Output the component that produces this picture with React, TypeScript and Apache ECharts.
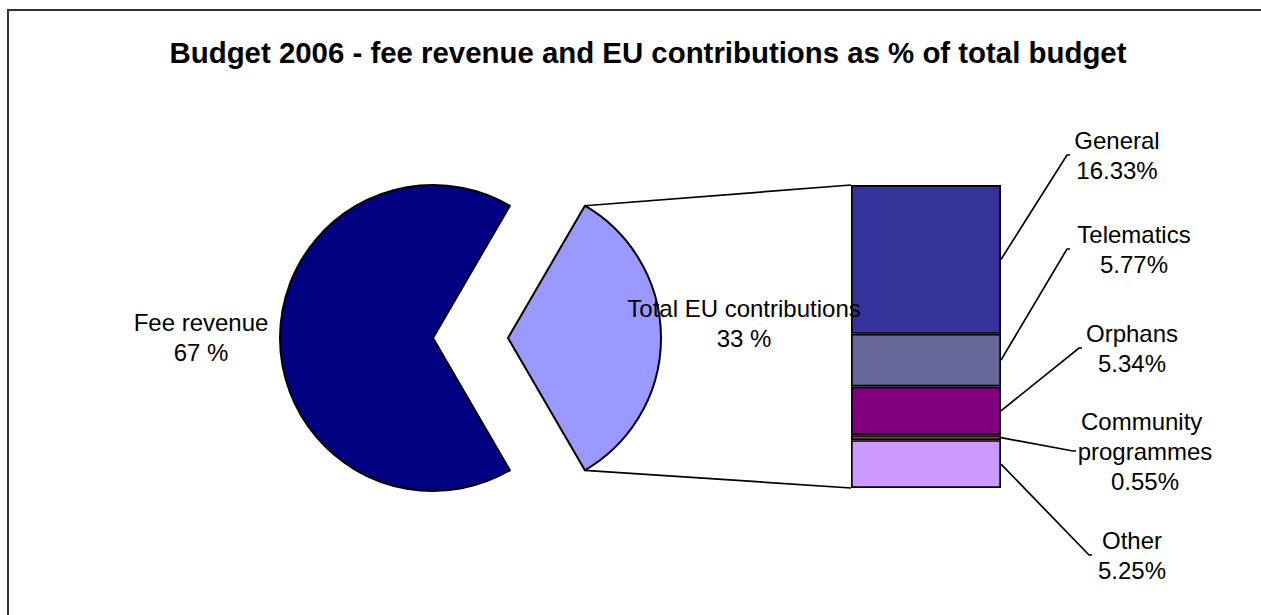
import React, { useEffect, useRef } from 'react';
import * as echarts from 'echarts';

// ---- data ----
const TITLE = 'Budget 2006 - fee revenue and EU contributions as % of total budget';
const PIE_NAMES = ['Total EU contributions', 'Fee revenue'];
const PIE_VALUES = [33.24, 66.76];
const PIE_COLORS = ['#9999FF', '#000080'];

const BAR_NAMES = ['General', 'Telematics', 'Orphans', 'Community programmes', 'Other'];
const BAR_VALUES = [16.33, 5.77, 5.34, 0.55, 5.25];
const BAR_COLORS = ['#333399', '#666699', '#800080', '#993366', '#CC99FF'];

// ---- layout ----
const FONT = 'Liberation Sans, Arial, sans-serif';
const LABEL_SIZE = 24;
const PIE_CX = 433;
const PIE_CY = 338;
const PIE_R = 153;
const EXPLODE = 75;
const BAR_LEFT = 851;
const BAR_TOP = 185;
const BAR_W = 150;
const BAR_H = 303;
const PIE_LABEL_POS = [
  { x: 744, y: 323 },
  { x: 201, y: 337 },
];
const BAR_LABEL_POS = [
  { x: 1117, y: 155, tick: 1067 },
  { x: 1134, y: 249, tick: 1067 },
  { x: 1132, y: 348, tick: 1079 },
  { x: 1145, y: 451, tick: 1073 },
  { x: 1132, y: 555, tick: 1089 },
];

export default function App() {
  const ref = useRef<HTMLDivElement>(null);

  useEffect(() => {
    if (!ref.current) return;
    document.documentElement.style.overflow = 'hidden';
    document.body.style.overflow = 'hidden';
    const chart = echarts.init(ref.current, undefined, { renderer: 'svg' });

    const pieTotal = PIE_VALUES.reduce((a, b) => a + b, 0);
    const euHalf = (PIE_VALUES[0] / pieTotal) * 180;
    const barSum = BAR_VALUES.reduce((a, b) => a + b, 0);

    const barSeries = BAR_NAMES.map((name, i) => ({
      type: 'bar',
      name,
      stack: 'eu',
      barWidth: '100%',
      silent: true,
      data: [BAR_VALUES[i]],
      itemStyle: { color: BAR_COLORS[i], borderColor: '#000', borderWidth: 1.7 },
      label: {
        show: true,
        position: 'right',
        formatter: (p: any) => `${p.seriesName}\n${Number(p.value).toFixed(2)}%`,
        width: 150,
        overflow: 'break',
        align: 'center',
        color: '#000',
        fontSize: LABEL_SIZE,
        lineHeight: 30,
        fontFamily: FONT,
      },
      labelLayout: () => {
        const pos = BAR_LABEL_POS[i];
        return { x: pos.x, y: pos.y, align: 'center', verticalAlign: 'middle' };
      },
    })).reverse();

    chart.setOption({
      animation: false,
      title: {
        text: TITLE,
        left: 648,
        top: 38,
        padding: 0,
        textAlign: 'center',
        textStyle: { fontSize: 29.4, fontWeight: 'bold', color: '#000', fontFamily: FONT },
      },
      grid: { left: BAR_LEFT, top: BAR_TOP, width: BAR_W, height: BAR_H },
      xAxis: { type: 'category', data: ['EU'], show: false },
      yAxis: { type: 'value', min: 0, max: barSum, show: false },
      series: [
        {
          type: 'pie',
          center: [PIE_CX, PIE_CY],
          radius: PIE_R,
          startAngle: euHalf,
          clockwise: true,
          selectedMode: 'single',
          selectedOffset: EXPLODE,
          avoidLabelOverlap: false,
          silent: true,
          data: PIE_NAMES.map((n, i) => ({
            name: n,
            value: PIE_VALUES[i],
            selected: i === 0,
            itemStyle: { color: PIE_COLORS[i] },
            select: { itemStyle: { color: PIE_COLORS[i], borderColor: '#000', borderWidth: 2 } },
          })),
          itemStyle: { borderColor: '#000', borderWidth: 2 },
          label: { show: false },
          labelLine: { show: false },
          emphasis: { disabled: true },
        },
        ...barSeries,
      ],
    });

    const rad = (euHalf * Math.PI) / 180;
    const vx = PIE_CX + EXPLODE;
    const cornerX = vx + PIE_R * Math.cos(rad);
    const cornerDy = PIE_R * Math.sin(rad);
    const barTopY = chart.convertToPixel({ yAxisIndex: 0 }, barSum) as number;
    const barBottomY = chart.convertToPixel({ yAxisIndex: 0 }, 0) as number;
    const barRight = BAR_LEFT + BAR_W;

    const leaderLines = BAR_NAMES.map((_, i) => {
      let below = 0;
      for (let j = i + 1; j < BAR_VALUES.length; j++) below += BAR_VALUES[j];
      const midY = chart.convertToPixel({ yAxisIndex: 0 }, below + BAR_VALUES[i] / 2) as number;
      const pos = BAR_LABEL_POS[i];
      return {
        type: 'polyline',
        shape: { points: [[barRight, midY], [pos.tick, pos.y], [pos.tick + 3, pos.y]] },
        style: { stroke: '#000', lineWidth: 1.7, fill: 'none' },
        silent: true,
      };
    });

    const pieLabels = PIE_NAMES.map((n, i) => ({
      type: 'text',
      x: PIE_LABEL_POS[i].x,
      y: PIE_LABEL_POS[i].y,
      z: 100,
      silent: true,
      style: {
        text: `${n}\n${Math.round((PIE_VALUES[i] / pieTotal) * 100)} %`,
        fill: '#000',
        fontSize: LABEL_SIZE,
        fontFamily: FONT,
        lineHeight: 30,
        align: 'center',
        verticalAlign: 'middle',
        textAlign: 'center',
        textVerticalAlign: 'middle',
      },
    }));

    chart.setOption({
      graphic: [
        {
          type: 'line',
          shape: { x1: cornerX, y1: PIE_CY - cornerDy, x2: BAR_LEFT, y2: barTopY },
          style: { stroke: '#000', lineWidth: 1.7 },
          silent: true,
        },
        {
          type: 'line',
          shape: { x1: cornerX, y1: PIE_CY + cornerDy, x2: BAR_LEFT, y2: barBottomY },
          style: { stroke: '#000', lineWidth: 1.7 },
          silent: true,
        },
        ...leaderLines,
        ...pieLabels,
      ],
    });

    return () => chart.dispose();
  }, []);

  return (
    <div
      style={{
        position: 'absolute',
        left: 0,
        top: 0,
        width: 1261,
        height: 615,
        background: '#fff',
        overflow: 'hidden',
      }}
    >
      <div
        style={{
          position: 'absolute',
          left: 7,
          top: 9,
          width: 1400,
          height: 800,
          borderTop: '2px solid #333',
          borderLeft: '2px solid #333',
        }}
      />
      <div
        ref={ref}
        style={{ position: 'absolute', left: 0, top: 0, width: 1261, height: 615 }}
      />
    </div>
  );
}
